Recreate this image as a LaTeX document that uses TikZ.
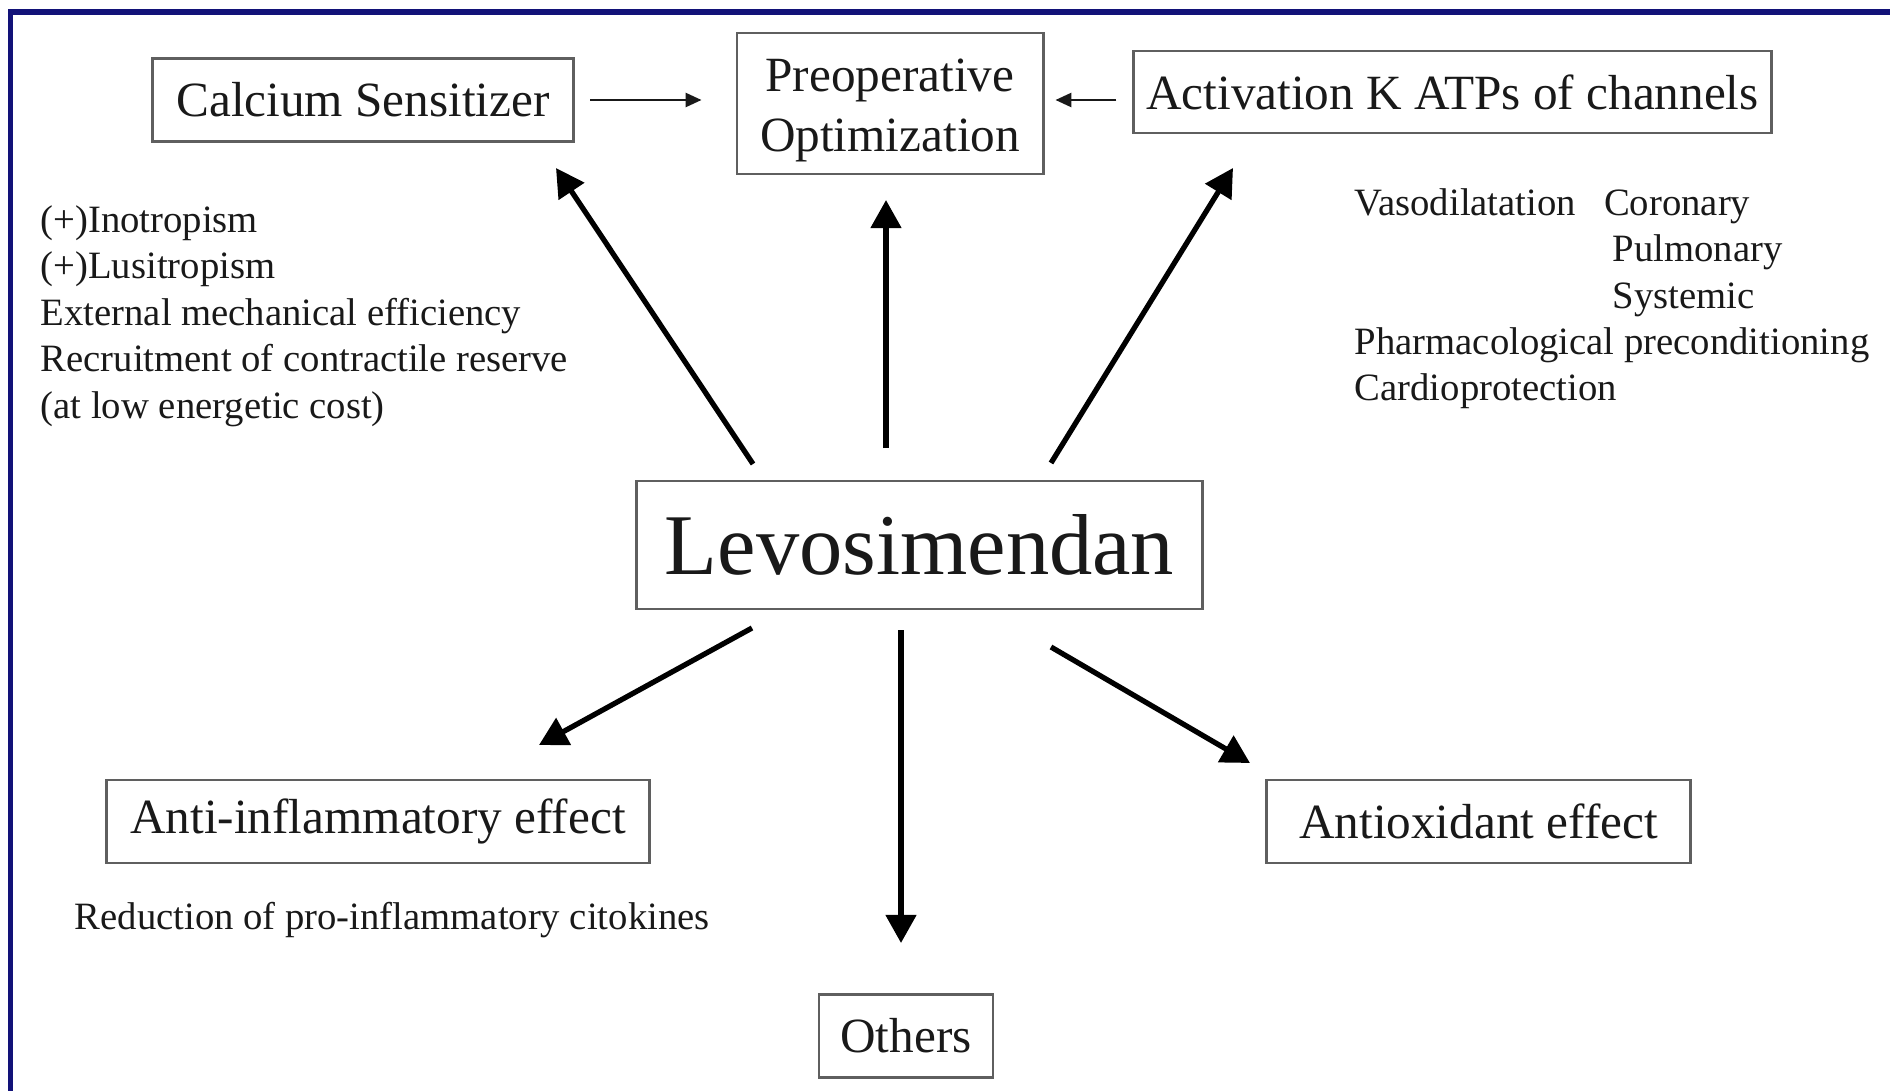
\documentclass[tikz,border=0pt]{standalone}
\usepackage{fontspec}
\setmainfont{Liberation Serif}
\usetikzlibrary{arrows.meta}
\definecolor{framenavy}{RGB}{18,18,120}
\definecolor{boxgray}{RGB}{95,95,95}
\definecolor{inkgray}{RGB}{25,25,25}
\tikzset{
  box/.style={draw=boxgray, line width=0.8pt, inner sep=0pt, text=inkgray, align=center,
    font=\fontsize{14pt}{17pt}\selectfont},
  note/.style={inner sep=0pt, anchor=north west, align=left, text=inkgray,
    font=\fontsize{11pt}{13.2pt}\selectfont},
  bigarrow/.style={line width=1.5pt, -{Triangle[length=8pt,width=8.5pt]}},
  smallarrow/.style={line width=0.6pt, draw=inkgray, -{Triangle[length=4.5pt,width=4pt]}}
}
\begin{document}
\begin{tikzpicture}[x=0.01cm, y=-0.01cm]
    \clip (0,0) rectangle (1890,1091);
    \fill[white] (0,0) rectangle (1890,1091);
    \draw[framenavy, line width=1.6pt] (10.5,1100) -- (10.5,12) -- (1900,12);

    \node[box, minimum width=4.21cm, minimum height=0.83cm] (calcium)  at (363,100)    {Calcium Sensitizer};
    \node[box, minimum width=3.06cm, minimum height=1.41cm] (preop)    at (890,103.5)  {\rule{0pt}{13pt}Preoperative\\Optimization};
    \node[box, minimum width=6.37cm, minimum height=0.82cm] (katp)     at (1452.5,92)  {Activation K ATPs of channels};
    \node[box, minimum width=5.65cm, minimum height=1.28cm,
          font=\fontsize{24.6pt}{29pt}\selectfont]          (levo)     at (919.5,545)  {Levosimendan};
    \node[box, minimum width=5.43cm, minimum height=0.83cm] (antiinfl) at (378,821.5)  {Anti-inflammatory effect};
    \node[box, minimum width=4.23cm, minimum height=0.83cm] (antiox)   at (1478.5,821.5) {Antioxidant effect};
    \node[box, minimum width=1.74cm, minimum height=0.83cm] (others)   at (906,1036)   {Others};

    \node[note] (calciumnotes) at (40,205) {(+)Inotropism\\(+)Lusitropism\\External mechanical efficiency\\Recruitment of contractile reserve\\(at low energetic cost)};
    \node[note] (katpnotes) at (1354,182) {\begin{tabular}{@{}l@{\hspace{8pt}}l@{}}
        Vasodilatation & Coronary\\
                       & \hspace*{2.5pt}Pulmonary\\
                       & \hspace*{2.5pt}Systemic\\
        \multicolumn{2}{@{}l@{}}{Pharmacological preconditioning}\\
        \multicolumn{2}{@{}l@{}}{Cardioprotection}
      \end{tabular}};
    \node[note] (antiinflnotes) at (74,902) {Reduction of pro-inflammatory citokines};

    \draw[smallarrow, shorten <=0.15cm, shorten >=0.34cm] (calcium.east) -- (calcium.east -| preop.west);
    \draw[smallarrow, shorten <=0.16cm, shorten >=0.11cm] ([yshift=-0.08cm]katp.west) -- ([yshift=-0.08cm]katp.west -| preop.east);

    \coordinate (calciumtail)  at (753,464);
    \coordinate (calciumtip)   at (556,168);
    \coordinate (preoptail)    at (886,448);
    \coordinate (preoptip)     at (886,200);
    \coordinate (katptail)     at (1051,463);
    \coordinate (katptip)      at (1233,168);
    \coordinate (antiinfltail) at (752,628);
    \coordinate (antiinfltip)  at (539,745);
    \coordinate (otherstail)   at (901,630);
    \coordinate (otherstip)    at (901,943);
    \coordinate (antioxtail)   at (1051,647);
    \coordinate (antioxtip)    at (1250,763);

    \draw[bigarrow] (calciumtail)  -- (calciumtip);
    \draw[bigarrow] (preoptail)    -- (preoptip);
    \draw[bigarrow] (katptail)     -- (katptip);
    \draw[bigarrow] (antiinfltail) -- (antiinfltip);
    \draw[bigarrow] (otherstail)   -- (otherstip);
    \draw[bigarrow] (antioxtail)   -- (antioxtip);
\end{tikzpicture}
\end{document}
